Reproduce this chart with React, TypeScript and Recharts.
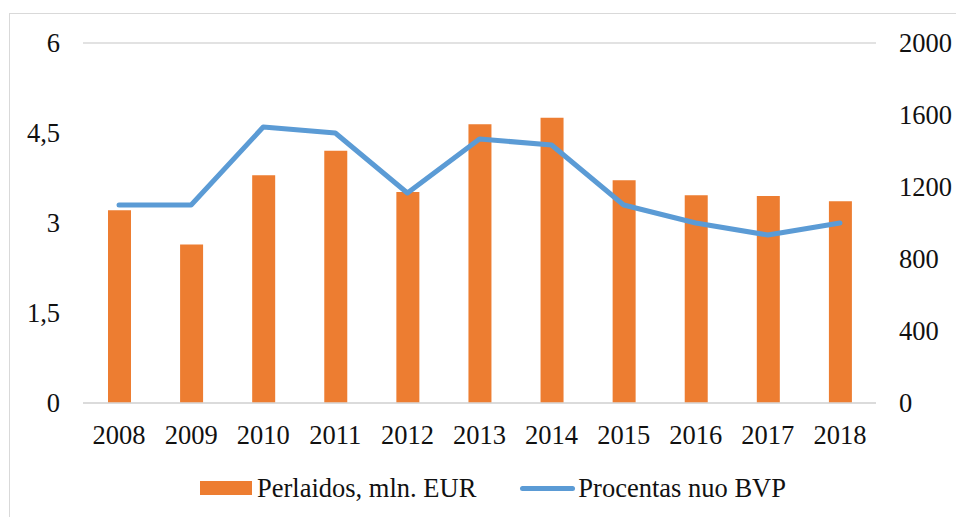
import {
  ComposedChart,
  Bar,
  Line,
  XAxis,
  YAxis,
  CartesianGrid,
  Legend,
} from "recharts";

const years = ["2008", "2009", "2010", "2011", "2012", "2013", "2014", "2015", "2016", "2017", "2018"];
const perlaidos = [1071, 880, 1265, 1402, 1172, 1548, 1585, 1237, 1154, 1150, 1121];
const procentas = [3.3, 3.3, 4.6, 4.5, 3.5, 4.4, 4.3, 3.3, 3.0, 2.8, 3.0];
const leftTicks = [0, 1.5, 3, 4.5, 6];
const rightTicks = [0, 400, 800, 1200, 1600, 2000];

const data = years.map((y, i) => ({
  year: y,
  "Perlaidos, mln. EUR": perlaidos[i],
  "Procentas nuo BVP": procentas[i],
}));

const FONT = "Liberation Serif, DejaVu Serif, serif";
const tickStyle = { fontSize: 26.5, fill: "#111", fontFamily: FONT };

export default function App() {
  return (
    <div
      style={{
        position: "absolute",
        left: 0,
        top: 0,
        width: 956,
        height: 517,
        overflow: "hidden",
        background: "#fff",
        fontFamily: FONT,
      }}
    >
      <div
        style={{
          position: "absolute",
          left: 9,
          top: 13,
          width: 1000,
          height: 600,
          border: "1px solid #d9d9d9",
        }}
      />
      <ComposedChart
        width={956}
        height={517}
        data={data}
        margin={{ top: 43, right: 0, left: 0, bottom: 54 }}
        style={{ position: "absolute", left: 0, top: 0, fontFamily: FONT }}
      >
        <CartesianGrid vertical={false} stroke="#d9d9d9" strokeWidth={1.5} />
        <XAxis
          dataKey="year"
          height={60}
          interval={0}
          tickLine={false}
          tickSize={0}
          tickMargin={22}
          axisLine={{ stroke: "#d9d9d9", strokeWidth: 1.5 }}
          tick={tickStyle}
        />
        <YAxis
          yAxisId="left"
          orientation="left"
          width={83}
          domain={[0, 6]}
          ticks={leftTicks}
          tickFormatter={(v: number) => String(v).replace(".", ",")}
          axisLine={false}
          tickLine={false}
          tickSize={0}
          tickMargin={23}
          tick={tickStyle}
        />
        <YAxis
          yAxisId="right"
          orientation="right"
          width={80}
          domain={[0, 2000]}
          ticks={rightTicks}
          axisLine={false}
          tickLine={false}
          tickSize={0}
          tickMargin={23}
          tick={{ ...tickStyle, textAnchor: "start" }}
        />
        <Bar
          yAxisId="right"
          dataKey="Perlaidos, mln. EUR"
          fill="#ED7D31"
          barSize={23}
          isAnimationActive={false}
        />
        <Line
          yAxisId="left"
          type="linear"
          dataKey="Procentas nuo BVP"
          stroke="#5B9BD5"
          strokeWidth={5}
          strokeLinecap="round"
          strokeLinejoin="round"
          dot={false}
          activeDot={false}
          isAnimationActive={false}
        />
        <Legend
          layout="horizontal"
          verticalAlign="middle"
          align="center"
          content={<CustomLegend />}
          wrapperStyle={{ top: 473, left: 200, width: 700 }}
        />
      </ComposedChart>
    </div>
  );
}

const CustomLegend = () => {
  return (
    <div
      style={{
        display: "flex",
        alignItems: "center",
        fontFamily: FONT,
        fontSize: 26.5,
        lineHeight: "30px",
        color: "#111",
        whiteSpace: "nowrap",
      }}
    >
      <span
        style={{ display: "inline-block", width: 52, height: 14, background: "#ED7D31" }}
      ></span>
      <span style={{ marginLeft: 5 }}>Perlaidos, mln. EUR</span>
      <span
        style={{
          display: "inline-block",
          width: 55,
          height: 5,
          borderRadius: 3,
          background: "#5B9BD5",
          marginLeft: 44,
        }}
      ></span>
      <span style={{ marginLeft: 3 }}>Procentas nuo BVP</span>
    </div>
  );
};
